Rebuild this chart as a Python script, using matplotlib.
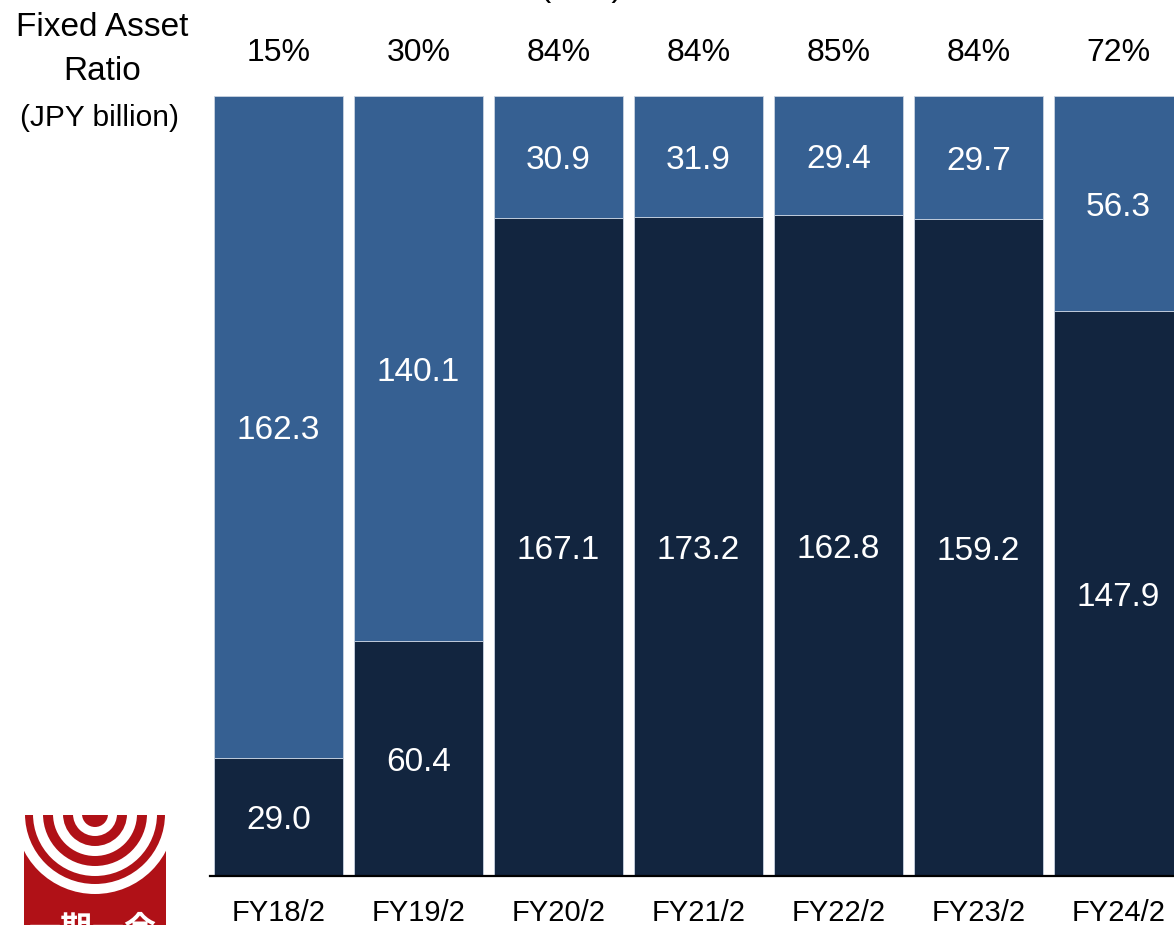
import matplotlib
matplotlib.use("Agg")
import matplotlib.pyplot as plt
from matplotlib.patches import Rectangle, Circle
import matplotlib.transforms as mtransforms

plt.rcParams['font.family'] = ['Liberation Sans', 'DejaVu Sans']

# Fiscal years and balance (JPY billion)
years = ["FY18/2", "FY19/2", "FY20/2", "FY21/2", "FY22/2", "FY23/2", "FY24/2"]
fixed_assets = [29.0, 60.4, 167.1, 173.2, 162.8, 159.2, 147.9]
other_assets = [162.3, 140.1, 30.9, 31.9, 29.4, 29.7, 56.3]

DARK = "#12253f"
LIGHT = "#366092"
EDGE = "#c9d3e1"

W, H = 1174, 925
fig = plt.figure(figsize=(W / 100, H / 100), dpi=100)


def px_box(x0, y0, x1, y1):
    """Figure-fraction rect from pixel box (top-left origin)."""
    return [x0 / W, 1 - y1 / H, (x1 - x0) / W, (y1 - y0) / H]


ax = fig.add_axes(px_box(210, 96, 1174, 876))

totals = [f + o for f, o in zip(fixed_assets, other_assets)]
fixed_share = [f / t for f, t in zip(fixed_assets, totals)]
other_share = [o / t for o, t in zip(other_assets, totals)]
xs = list(range(len(years)))
bw = 129 / 140

ax.bar(xs, fixed_share, width=bw, color=DARK, edgecolor=EDGE, linewidth=0.6)
ax.bar(xs, other_share, width=bw, bottom=fixed_share, color=LIGHT,
       edgecolor=EDGE, linewidth=0.6)

# small downward nudge so the digits sit optically centred
nudge = -4 / 780
for x, f, o, fs, os_ in zip(xs, fixed_assets, other_assets, fixed_share, other_share):
    ax.text(x, fs / 2 + nudge, f"{f:.1f}", color="white", ha="center",
            va="center", fontsize=24)
    ax.text(x, fs + os_ / 2 + nudge, f"{o:.1f}", color="white", ha="center",
            va="center", fontsize=24)
    ax.text(x, 1 + 43 / 780, f"{fs * 100:.0f}%", color="black", ha="center",
            va="center", fontsize=23, clip_on=False)

trans = mtransforms.blended_transform_factory(ax.transData, ax.transAxes)
for x, lab in zip(xs, years):
    ax.text(x, -37 / 780, lab, transform=trans, ha="center", va="center",
            fontsize=21, clip_on=False)

ax.set_xlim((210 - 278.5) / 140, (1174 - 278.5) / 140)
ax.set_ylim(0, 1)
ax.set_xticks([])
ax.set_yticks([])
for s in ("top", "right", "left"):
    ax.spines[s].set_visible(False)
ax.spines["bottom"].set_linewidth(1.6)
ax.spines["bottom"].set_color("black")

# Row header on the left
fig.text(102 / W, 1 - 27 / H, "Fixed Asset", ha="center", va="center", fontsize=24)
fig.text(102 / W, 1 - 71 / H, "Ratio", ha="center", va="center", fontsize=24)
fig.text(100 / W, 1 - 118 / H, "(JPY billion)", ha="center", va="center", fontsize=21.5)

# Unit note at the very top
fig.text(582 / W, 1 + 12 / H, "(JPY)", ha="center", va="center", fontsize=24)

# Red emblem in the lower-left corner
lax = fig.add_axes([0, 0, 1, 1], zorder=-1)
lax.set_xlim(0, W)
lax.set_ylim(H, 0)
lax.axis("off")
RED = "#b01117"
clip = Rectangle((24, 815), 142, 120, facecolor=RED, edgecolor="none")
lax.add_patch(clip)
cx, cy = 95, 814
radii = [(80, "white"), (70, RED), (62, "white"), (52, RED), (42, "white"),
         (32, RED), (22, "white"), (13, RED)]
for r, c in radii:
    circ = Circle((cx, cy), r, facecolor=c, edgecolor="none")
    lax.add_patch(circ)
    circ.set_clip_path(clip)
lax.text(93, 930, "一期一会", ha="center", va="center", color="white",
         fontsize=23, fontweight="bold",
         family=["Noto Sans CJK JP", "DejaVu Sans"])

fig.savefig("out.png", dpi=100)
